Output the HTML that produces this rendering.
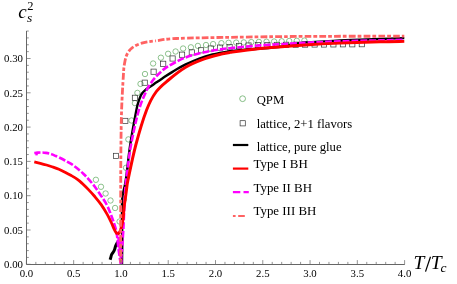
<!DOCTYPE html>
<html><head><meta charset="utf-8"><title>chart</title>
<style>
html,body{margin:0;padding:0;background:#fff;}
body{width:457px;height:284px;overflow:hidden;position:relative;font-family:"Liberation Serif",serif;}
</style></head><body>
<svg width="457" height="284" viewBox="0 0 457 284" style="position:absolute;left:0;top:0;will-change:transform">
<rect width="457" height="284" fill="#fff"/>
<g fill="none" stroke="#68ad68" stroke-width="0.75">
<circle cx="95.9" cy="179.8" r="2.7"/>
<circle cx="101.0" cy="186.8" r="2.7"/>
<circle cx="105.6" cy="193.5" r="2.7"/>
<circle cx="110.5" cy="200.5" r="2.7"/>
<circle cx="115.1" cy="208.0" r="2.7"/>
<circle cx="119.6" cy="221.5" r="2.7"/>
<circle cx="123.9" cy="199.4" r="2.7"/>
<circle cx="126.0" cy="167.8" r="2.7"/>
<circle cx="128.4" cy="139.4" r="2.7"/>
<circle cx="131.5" cy="120.5" r="2.7"/>
<circle cx="134.9" cy="103.1" r="2.7"/>
<circle cx="137.4" cy="92.9" r="2.7"/>
<circle cx="140.5" cy="83.9" r="2.7"/>
<circle cx="145.0" cy="74.0" r="2.7"/>
<circle cx="153.1" cy="63.5" r="2.7"/>
<circle cx="160.9" cy="57.7" r="2.7"/>
<circle cx="168.1" cy="53.8" r="2.7"/>
<circle cx="175.6" cy="51.5" r="2.7"/>
<circle cx="183.1" cy="48.5" r="2.7"/>
<circle cx="190.9" cy="47.3" r="2.7"/>
<circle cx="197.9" cy="45.9" r="2.7"/>
<circle cx="206.0" cy="45.0" r="2.7"/>
<circle cx="213.1" cy="44.1" r="2.7"/>
<circle cx="221.4" cy="43.2" r="2.7"/>
<circle cx="228.6" cy="42.8" r="2.7"/>
<circle cx="236.2" cy="42.6" r="2.7"/>
<circle cx="243.8" cy="42.4" r="2.7"/>
<circle cx="251.3" cy="42.1" r="2.7"/>
<circle cx="258.9" cy="41.9" r="2.7"/>
<circle cx="266.5" cy="41.7" r="2.7"/>
<circle cx="274.1" cy="41.5" r="2.7"/>
<circle cx="281.7" cy="41.3" r="2.7"/>
<circle cx="289.2" cy="41.0" r="2.7"/>
<circle cx="296.8" cy="40.8" r="2.7"/>
<circle cx="304.4" cy="40.6" r="2.7"/>
</g>
<g fill="none" stroke="#333" stroke-width="0.7">
<rect x="113.4" y="153.3" width="5.2" height="5.2"/>
<rect x="122.7" y="118.3" width="5.2" height="5.2"/>
<rect x="132.3" y="95.2" width="5.2" height="5.2"/>
<rect x="142.1" y="80.1" width="5.2" height="5.2"/>
<rect x="151.0" y="69.1" width="5.2" height="5.2"/>
<rect x="160.6" y="61.2" width="5.2" height="5.2"/>
<rect x="170.0" y="55.9" width="5.2" height="5.2"/>
<rect x="179.5" y="52.1" width="5.2" height="5.2"/>
<rect x="189.2" y="49.8" width="5.2" height="5.2"/>
<rect x="198.5" y="47.7" width="5.2" height="5.2"/>
<rect x="208.2" y="45.9" width="5.2" height="5.2"/>
<rect x="217.5" y="45.0" width="5.2" height="5.2"/>
<rect x="227.0" y="44.6" width="5.2" height="5.2"/>
<rect x="236.4" y="43.5" width="5.2" height="5.2"/>
<rect x="245.9" y="42.9" width="5.2" height="5.2"/>
<rect x="255.3" y="42.6" width="5.2" height="5.2"/>
<rect x="264.8" y="42.4" width="5.2" height="5.2"/>
<rect x="274.2" y="42.3" width="5.2" height="5.2"/>
<rect x="283.6" y="42.2" width="5.2" height="5.2"/>
<rect x="293.1" y="42.1" width="5.2" height="5.2"/>
<rect x="302.5" y="42.0" width="5.2" height="5.2"/>
<rect x="312.0" y="41.9" width="5.2" height="5.2"/>
<rect x="321.4" y="41.9" width="5.2" height="5.2"/>
<rect x="330.8" y="41.8" width="5.2" height="5.2"/>
<rect x="340.3" y="41.7" width="5.2" height="5.2"/>
<rect x="349.7" y="41.7" width="5.2" height="5.2"/>
<rect x="359.2" y="41.6" width="5.2" height="5.2"/>
</g>
<g fill="none" stroke-linejoin="round">
<path d="M110.10 259.80 C110.22 259.42 110.55 258.37 110.80 257.50 C111.05 256.63 111.20 255.47 111.60 254.60 C112.00 253.73 112.70 253.15 113.20 252.30 C113.70 251.45 114.20 250.55 114.60 249.50 C115.00 248.45 115.22 247.03 115.60 246.00 C115.98 244.97 116.42 244.05 116.90 243.30 C117.38 242.55 117.90 242.05 118.50 241.50 C119.10 240.95 120.17 240.25 120.50 240.00" stroke="#000" stroke-width="3"/>
<path d="M122.00 264.00 C122.03 260.00 122.20 248.17 122.20 240.00 C122.20 231.83 122.03 220.83 122.00 215.00 C121.97 209.17 121.88 208.33 122.00 205.00 C122.12 201.67 122.25 198.17 122.70 195.00 C123.15 191.83 124.08 189.17 124.70 186.00 C125.32 182.83 125.48 182.83 126.40 176.00 C127.32 169.17 128.53 156.00 130.20 145.00 C131.87 134.00 135.00 117.25 136.40 110.00 C137.80 102.75 137.90 103.83 138.60 101.50 C139.30 99.17 139.97 97.42 140.60 96.00 C141.23 94.58 141.67 93.95 142.40 93.00 C143.13 92.05 144.07 91.13 145.00 90.30 C145.93 89.47 146.83 88.82 148.00 88.00 C149.17 87.18 150.67 86.30 152.00 85.40 C153.33 84.50 154.28 83.77 156.00 82.60 C157.72 81.43 159.48 80.23 162.30 78.40 C165.12 76.57 169.08 73.88 172.90 71.60 C176.72 69.32 180.80 66.88 185.20 64.70 C189.60 62.52 194.75 60.20 199.30 58.50 C203.85 56.80 208.10 55.58 212.50 54.50 C216.90 53.42 222.78 52.53 225.70 52.00 C228.62 51.47 225.95 51.75 230.00 51.30 C234.05 50.85 243.33 49.90 250.00 49.30 C256.67 48.70 264.17 48.22 270.00 47.70 C275.83 47.18 280.67 46.85 285.00 46.20 C289.33 45.55 292.67 44.42 296.00 43.80 C299.33 43.18 301.00 42.87 305.00 42.50 C309.00 42.13 314.17 41.93 320.00 41.60 C325.83 41.27 333.33 40.82 340.00 40.50 C346.67 40.18 353.33 39.95 360.00 39.70 C366.67 39.45 372.62 39.27 380.00 39.00 C387.38 38.73 400.25 38.25 404.30 38.10" stroke="#000" stroke-width="2.4"/>
<path d="M34.30 153.00 C34.92 152.93 36.65 152.68 38.00 152.60 C39.35 152.52 41.07 152.45 42.40 152.50 C43.73 152.55 44.88 152.73 46.00 152.90 C47.12 153.07 48.10 153.25 49.10 153.50 C50.10 153.75 51.05 154.05 52.00 154.40 C52.95 154.75 53.65 155.10 54.80 155.60 C55.95 156.10 57.20 156.58 58.90 157.40 C60.60 158.22 62.95 159.42 65.00 160.50 C67.05 161.58 69.13 162.57 71.20 163.90 C73.27 165.23 75.33 166.82 77.40 168.50 C79.47 170.18 81.75 172.23 83.60 174.00 C85.45 175.77 86.65 177.02 88.50 179.10 C90.35 181.18 92.75 183.93 94.70 186.50 C96.65 189.07 98.22 191.50 100.20 194.50 C102.18 197.50 104.82 201.17 106.60 204.50 C108.38 207.83 109.67 211.38 110.90 214.50 C112.13 217.62 113.10 220.45 114.00 223.20 C114.90 225.95 115.77 228.70 116.30 231.00 C116.83 233.30 116.88 234.50 117.20 237.00 C117.52 239.50 117.82 242.83 118.20 246.00 C118.58 249.17 119.07 253.00 119.50 256.00 C119.93 259.00 120.58 262.67 120.80 264.00" stroke="#ff00ff" stroke-width="2.6" stroke-dasharray="6.8 2.0" stroke-dashoffset="0.6"/>
<path d="M36.3 151.8 L36.7 155.3" stroke="#ff00ff" stroke-width="2.4"/>
<path d="M121.10 264.00 C121.30 260.83 121.93 250.67 122.30 245.00 C122.67 239.33 122.98 235.83 123.30 230.00 C123.62 224.17 123.87 216.67 124.20 210.00 C124.53 203.33 124.97 195.00 125.30 190.00 C125.63 185.00 125.25 187.50 126.20 180.00 C127.15 172.50 128.88 156.67 131.00 145.00 C133.12 133.33 136.25 119.20 138.90 110.00 C141.55 100.80 145.05 94.05 146.90 89.80 C148.75 85.55 148.90 86.22 150.00 84.50 C151.10 82.78 152.50 80.82 153.50 79.50 C154.50 78.18 154.92 77.72 156.00 76.60 C157.08 75.48 158.07 74.47 160.00 72.80 C161.93 71.13 163.40 69.13 167.60 66.60 C171.80 64.07 179.32 59.95 185.20 57.60 C191.08 55.25 197.02 53.87 202.90 52.50 C208.78 51.13 215.98 50.12 220.50 49.40 C225.02 48.68 223.42 48.87 230.00 48.20 C236.58 47.53 247.50 46.30 260.00 45.40 C272.50 44.50 291.67 43.48 305.00 42.80 C318.33 42.12 327.50 41.70 340.00 41.30 C352.50 40.90 369.28 40.65 380.00 40.40 C390.72 40.15 400.25 39.90 404.30 39.80" stroke="#ff00ff" stroke-width="2.6" stroke-dasharray="6.8 2.0"/>
<path d="M117.0 237 L123.6 237 L122.3 262.5 L120.2 262.5 Z" fill="#ff00ff" stroke="none"/>
<path d="M122.5 237.5 v3.2 M122.4 245.5 v3.4 M122.2 251.8 v2.4 M121.8 257.8 v2.4" stroke="#000" stroke-width="1.3"/>
<path d="M34.30 161.90 C35.30 162.13 38.27 162.78 40.30 163.30 C42.33 163.82 44.43 164.38 46.50 165.00 C48.57 165.62 50.63 166.28 52.70 167.00 C54.77 167.72 56.85 168.43 58.90 169.30 C60.95 170.17 62.95 171.17 65.00 172.20 C67.05 173.23 69.13 174.32 71.20 175.50 C73.27 176.68 75.55 177.97 77.40 179.30 C79.25 180.63 80.45 181.78 82.30 183.50 C84.15 185.22 86.50 187.52 88.50 189.60 C90.50 191.68 92.22 193.53 94.30 196.00 C96.38 198.47 98.85 201.33 101.00 204.40 C103.15 207.47 105.45 211.30 107.20 214.40 C108.95 217.50 110.27 220.37 111.50 223.00 C112.73 225.63 113.63 228.32 114.60 230.20 C115.57 232.08 116.85 233.62 117.30 234.30" stroke="#ff0000" stroke-width="2.8"/>
<path d="M117.30 234.30 C117.68 233.95 118.92 233.42 119.60 232.20 C120.28 230.98 120.80 229.37 121.40 227.00 C122.00 224.63 122.77 221.17 123.20 218.00 C123.63 214.83 123.63 211.33 124.00 208.00 C124.37 204.67 124.97 201.17 125.40 198.00 C125.83 194.83 126.17 192.00 126.60 189.00 C127.03 186.00 126.47 187.33 128.00 180.00 C129.53 172.67 132.70 156.67 135.80 145.00 C138.90 133.33 143.23 118.83 146.60 110.00 C149.97 101.17 152.35 97.00 156.00 92.00 C159.65 87.00 163.63 84.08 168.50 80.00 C173.37 75.92 179.47 70.93 185.20 67.50 C190.93 64.07 197.02 61.60 202.90 59.40 C208.78 57.20 215.98 55.47 220.50 54.30 C225.02 53.13 223.42 53.37 230.00 52.40 C236.58 51.43 247.50 49.73 260.00 48.50 C272.50 47.27 291.67 45.90 305.00 45.00 C318.33 44.10 327.50 43.63 340.00 43.10 C352.50 42.57 369.28 42.08 380.00 41.80 C390.72 41.52 400.25 41.47 404.30 41.40" stroke="#ff0000" stroke-width="2.95"/>
<path d="M120.70 264.30 C120.70 253.58 120.67 219.05 120.70 200.00 C120.73 180.95 120.75 165.00 120.90 150.00 C121.05 135.00 121.18 122.50 121.60 110.00 C122.02 97.50 122.93 82.63 123.40 75.00 C123.87 67.37 123.80 67.63 124.40 64.20 C125.00 60.77 125.67 57.17 127.00 54.40 C128.33 51.63 129.77 49.52 132.40 47.60 C135.03 45.68 138.87 44.03 142.80 42.90 C146.73 41.77 150.40 41.53 156.00 40.80" stroke="#ff6262" stroke-width="2.8" stroke-dasharray="6.8 2.0 3.7 2.2" stroke-dashoffset="6.7"/>
<path d="M156.00 40.80 C161.60 40.07 164.07 39.08 176.40 38.50 C188.73 37.92 208.57 37.65 230.00 37.30 C251.43 36.95 275.95 36.58 305.00 36.40 C334.05 36.22 387.75 36.23 404.30 36.20" stroke="#ff6262" stroke-width="2.8" stroke-dasharray="6.8 2.0 3.7 2.2" stroke-dashoffset="12.8"/>
</g>
<path d="M26.5 31 V264.5 H404.8" stroke="#666" stroke-width="1" fill="none"/>
<g stroke="#666" stroke-width="0.7" fill="none">
<path d="M26.40 264.30 v-4.2"/>
<path d="M35.85 264.30 v-2.4"/>
<path d="M45.31 264.30 v-2.4"/>
<path d="M54.77 264.30 v-2.4"/>
<path d="M64.22 264.30 v-2.4"/>
<path d="M73.67 264.30 v-4.2"/>
<path d="M83.13 264.30 v-2.4"/>
<path d="M92.59 264.30 v-2.4"/>
<path d="M102.04 264.30 v-2.4"/>
<path d="M111.50 264.30 v-2.4"/>
<path d="M120.95 264.30 v-4.2"/>
<path d="M130.41 264.30 v-2.4"/>
<path d="M139.86 264.30 v-2.4"/>
<path d="M149.31 264.30 v-2.4"/>
<path d="M158.77 264.30 v-2.4"/>
<path d="M168.22 264.30 v-4.2"/>
<path d="M177.68 264.30 v-2.4"/>
<path d="M187.13 264.30 v-2.4"/>
<path d="M196.59 264.30 v-2.4"/>
<path d="M206.05 264.30 v-2.4"/>
<path d="M215.50 264.30 v-4.2"/>
<path d="M224.96 264.30 v-2.4"/>
<path d="M234.41 264.30 v-2.4"/>
<path d="M243.87 264.30 v-2.4"/>
<path d="M253.32 264.30 v-2.4"/>
<path d="M262.77 264.30 v-4.2"/>
<path d="M272.23 264.30 v-2.4"/>
<path d="M281.69 264.30 v-2.4"/>
<path d="M291.14 264.30 v-2.4"/>
<path d="M300.59 264.30 v-2.4"/>
<path d="M310.05 264.30 v-4.2"/>
<path d="M319.50 264.30 v-2.4"/>
<path d="M328.96 264.30 v-2.4"/>
<path d="M338.41 264.30 v-2.4"/>
<path d="M347.87 264.30 v-2.4"/>
<path d="M357.32 264.30 v-4.2"/>
<path d="M366.78 264.30 v-2.4"/>
<path d="M376.23 264.30 v-2.4"/>
<path d="M385.69 264.30 v-2.4"/>
<path d="M395.14 264.30 v-2.4"/>
<path d="M404.60 264.30 v-4.2"/>
<path d="M26.40 264.30 h4.2"/>
<path d="M26.40 257.44 h2.4"/>
<path d="M26.40 250.58 h2.4"/>
<path d="M26.40 243.72 h2.4"/>
<path d="M26.40 236.86 h2.4"/>
<path d="M26.40 230.00 h4.2"/>
<path d="M26.40 223.14 h2.4"/>
<path d="M26.40 216.28 h2.4"/>
<path d="M26.40 209.42 h2.4"/>
<path d="M26.40 202.56 h2.4"/>
<path d="M26.40 195.70 h4.2"/>
<path d="M26.40 188.84 h2.4"/>
<path d="M26.40 181.98 h2.4"/>
<path d="M26.40 175.12 h2.4"/>
<path d="M26.40 168.26 h2.4"/>
<path d="M26.40 161.40 h4.2"/>
<path d="M26.40 154.54 h2.4"/>
<path d="M26.40 147.68 h2.4"/>
<path d="M26.40 140.82 h2.4"/>
<path d="M26.40 133.96 h2.4"/>
<path d="M26.40 127.10 h4.2"/>
<path d="M26.40 120.24 h2.4"/>
<path d="M26.40 113.38 h2.4"/>
<path d="M26.40 106.52 h2.4"/>
<path d="M26.40 99.66 h2.4"/>
<path d="M26.40 92.80 h4.2"/>
<path d="M26.40 85.94 h2.4"/>
<path d="M26.40 79.08 h2.4"/>
<path d="M26.40 72.22 h2.4"/>
<path d="M26.40 65.36 h2.4"/>
<path d="M26.40 58.50 h4.2"/>
<path d="M26.40 51.64 h2.4"/>
<path d="M26.40 44.78 h2.4"/>
<path d="M26.40 37.92 h2.4"/>
<path d="M26.40 31.06 h2.4"/>
</g>
<g font-family="Liberation Serif, serif" font-size="10.8px" fill="#000">
<text x="26.4" y="277.1" text-anchor="middle">0.0</text>
<text x="73.7" y="277.1" text-anchor="middle">0.5</text>
<text x="120.9" y="277.1" text-anchor="middle">1.0</text>
<text x="168.2" y="277.1" text-anchor="middle">1.5</text>
<text x="215.5" y="277.1" text-anchor="middle">2.0</text>
<text x="262.8" y="277.1" text-anchor="middle">2.5</text>
<text x="310.0" y="277.1" text-anchor="middle">3.0</text>
<text x="357.3" y="277.1" text-anchor="middle">3.5</text>
<text x="404.6" y="277.1" text-anchor="middle">4.0</text>
<text x="23" y="268.0" text-anchor="end">0.00</text>
<text x="23" y="233.7" text-anchor="end">0.05</text>
<text x="23" y="199.4" text-anchor="end">0.10</text>
<text x="23" y="165.1" text-anchor="end">0.15</text>
<text x="23" y="130.8" text-anchor="end">0.20</text>
<text x="23" y="96.5" text-anchor="end">0.25</text>
<text x="23" y="62.2" text-anchor="end">0.30</text>
</g>
<g font-family="Liberation Serif, serif" fill="#000">
<text x="18.3" y="18.2" font-size="19px" font-style="italic">c</text>
<text x="27.2" y="9.9" font-size="12.5px">2</text>
<text x="27.1" y="22" font-size="13.5px" font-style="italic">s</text>
<text transform="translate(413.4 269) scale(1.07 1)" font-size="18.3px" font-style="italic">T</text>
<text transform="translate(430.8 269) scale(1.07 1)" font-size="18.3px" font-style="italic">T</text>
<path d="M430.5 256.8 L425.5 271.6" stroke="#000" stroke-width="1.25" fill="none"/>
<text x="440.6" y="272" font-size="13.5px" font-style="italic">c</text>
</g>
<g font-family="Liberation Serif, serif" font-size="12.7px" fill="#000">
<circle cx="242.6" cy="98.7" r="2.9" fill="none" stroke="#68ad68" stroke-width="0.8"/>
<text x="256.7" y="104">QPM</text>
<rect x="240.1" y="120.7" width="5.2" height="5.2" fill="none" stroke="#333" stroke-width="0.7"/>
<text x="256.7" y="127.8">lattice, 2+1 flavors</text>
<path d="M232.9 145 H248.3" stroke="#000" stroke-width="2.2"/>
<text x="256.7" y="150.6">lattice, pure glue</text>
<path d="M232.9 168.6 H248.3" stroke="#f00" stroke-width="2.2"/>
<text x="253.5" y="168" font-size="12.9px">Type I BH</text>
<path d="M232.9 192.1 H248.8" stroke="#f0f" stroke-width="2.2" stroke-dasharray="7.4 3.2"/>
<text x="253.5" y="191.8" font-size="12.9px">Type II BH</text>
<path d="M232.9 216 H244.8" stroke="#ff6262" stroke-width="2.2" stroke-dasharray="2.7 2.6 6.6 3"/>
<text x="253.5" y="215.2" font-size="12.9px">Type III BH</text>
</g>
</svg>
</body></html>
